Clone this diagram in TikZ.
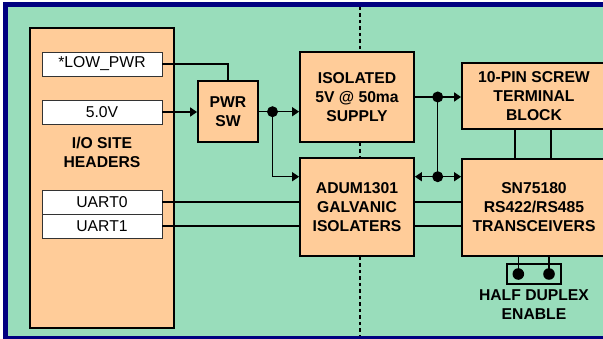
\documentclass[tikz,border=0pt]{standalone}
\usepackage{fontspec}
\setmainfont{Liberation Sans}
\usetikzlibrary{arrows.meta,calc}
\definecolor{bggreen}{RGB}{153,221,187}
\definecolor{boxorange}{RGB}{255,204,153}
\definecolor{framenavy}{RGB}{0,0,128}
\tikzset{
  blk/.style={draw=black, line width=1.8pt, fill=boxorange, align=center,
    font=\fontsize{15.7}{19}\selectfont\bfseries, inner sep=0pt},
  hdr/.style={draw=black!80, line width=0.9pt, fill=white, minimum width=120pt,
    minimum height=24pt, inner sep=0pt, font=\fontsize{15.7}{19}\selectfont},
  wire/.style={line width=1.5pt},
  arr/.style={wire, -{Triangle[length=7pt,width=9pt]}},
  arrboth/.style={wire, {Triangle[length=7pt,width=9pt]}-{Triangle[length=7pt,width=9pt]}},
  isoline/.style={line width=1.5pt, dash pattern=on 3.5pt off 3pt},
  jdot/.style={fill=black}
}
\begin{document}
\begin{tikzpicture}[x=1pt,y=-1pt]
\useasboundingbox (0,0) rectangle (603,339);
\clip (0,0) rectangle (603,339);
\fill[white] (0,0) rectangle (603,339);
\fill[framenavy] (3,2) rectangle (620,350);
\fill[bggreen] (8,7) rectangle (620,336);

% I/O site headers
\node[blk, minimum width=144pt, minimum height=300pt] (io) at (102,178) {};
\node[font=\fontsize{15.7}{19}\selectfont\bfseries, align=center] (iolbl) at (102,152) {I/O SITE\\HEADERS};
\node[hdr] (lowpwr) at (102,64) {*LOW\_PWR};
\node[hdr] (v5) at (102,112) {5.0V};
\node[hdr] (uart0) at (102,202) {UART0};
\node[hdr] (uart1) at (102,226) {UART1};

% blocks
\node[blk, minimum width=60pt, minimum height=61pt] (pwrsw) at (228,111.5) {PWR\\SW};
\node[blk, minimum width=114pt, minimum height=90pt] (iso) at (357,97) {ISOLATED\\5V @ 50ma\\SUPPLY};
\node[blk, minimum width=114pt, minimum height=98pt] (adum) at (357,207) {ADUM1301\\GALVANIC\\ISOLATERS};
\node[blk, minimum width=144pt, minimum height=66pt] (term) at (534,96) {10-PIN SCREW\\TERMINAL\\BLOCK};
\node[blk, minimum width=144pt, minimum height=97pt] (sn) at (534,207.5) {SN75180\\RS422/RS485\\TRANSCEIVERS};

% isolation barrier
\coordinate (bartop) at (360,7);
\coordinate (barbot) at (360,336);
\draw[isoline] (bartop) -- ([xshift=3pt]iso.north);
\draw[isoline] ([xshift=3pt]iso.south) -- ([xshift=3pt]adum.north);
\draw[isoline] ([xshift=3pt]adum.south) -- (barbot);

% junctions
\coordinate (j1) at (272.5,111.7);
\coordinate (j2) at (437.7,97);
\coordinate (j3) at (437.7,176.7);

% connectors
\draw[wire] (lowpwr.east) -| (pwrsw.north);
\draw[arr] (v5.east) -- (v5.east -| pwrsw.west);
\draw[arr] (pwrsw.east |- j1) -- (j1) -- (j1 -| iso.west);
\draw[arr] (j1) |- (j3 -| adum.west);
\draw[arr] (iso.east |- j2) -- (j2) -- (j2 -| term.west);
\draw[wire] (j2) -- (j3);
\draw[arrboth] (j3 -| adum.east) -- (j3 -| sn.west);
\draw[wire] (uart0.east) -- (uart0.east -| adum.west);
\draw[wire] (uart1.east) -- (uart1.east -| adum.west);
\draw[wire] (uart0.east -| adum.east) -- (uart0.east -| sn.west);
\draw[wire] (uart1.east -| adum.east) -- (uart1.east -| sn.west);
\draw[wire] ([xshift=54pt]term.south west) -- ([xshift=54pt]sn.north west);
\draw[wire] ([xshift=90pt]term.south west) -- ([xshift=90pt]sn.north west);
\fill[jdot] (j1) circle (5.5pt);
\fill[jdot] (j2) circle (5.5pt);
\fill[jdot] (j3) circle (5.5pt);

% half duplex jumper
\node[draw=black, line width=1.5pt, minimum width=54pt, minimum height=20pt, inner sep=0pt] (jmp) at (534,274) {};
\coordinate (pa) at (518.3,274);
\coordinate (pb) at (549,274);
\draw[wire] (sn.south -| pa) -- (pa);
\draw[wire] (sn.south -| pb) -- (pb);
\fill[jdot] (pa) circle (5.8pt);
\fill[jdot] (pb) circle (5.8pt);
\node[font=\fontsize{15.7}{19}\selectfont\bfseries, align=center] (hdlbl) at (534,305) {HALF DUPLEX\\ENABLE};
\end{tikzpicture}
\end{document}
